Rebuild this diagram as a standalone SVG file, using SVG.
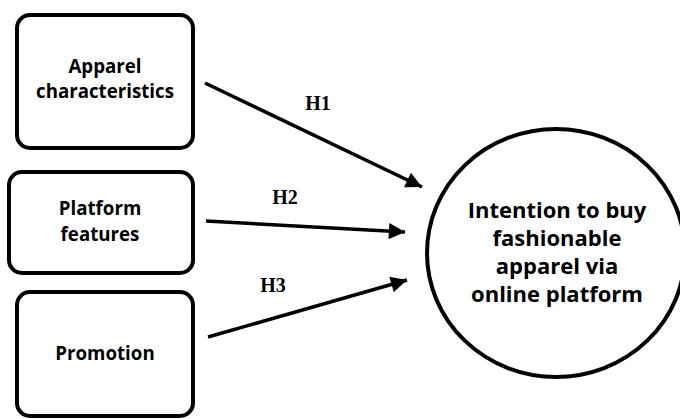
<svg xmlns="http://www.w3.org/2000/svg" width="680" height="419" viewBox="0 0 680 419">
<style>
.box{fill:#fff;stroke:#000;stroke-width:4}
.lbl{font-family:"Open Sans","Liberation Sans",sans-serif;font-weight:bold;font-size:18.7px;fill:#000;text-anchor:middle}
.big{font-size:22px}
.h{font-family:"Liberation Serif",serif;font-weight:bold;font-size:20px;fill:#000;text-anchor:middle}
.conn{stroke:#000;stroke-width:3.5;fill:none;marker-end:url(#ah)}
</style>
<defs>
<marker id="ah" viewBox="0 0 10 10" refX="10" refY="5" markerWidth="5.2" markerHeight="4.6" orient="auto" markerUnits="strokeWidth">
<path d="M0,0 L10,5 L0,10 z" fill="#000"/>
</marker>
</defs>
<rect width="680" height="419" fill="#fff"/>
<g id="n1">
<rect class="box" x="17" y="15" width="176" height="133" rx="13"/>
<text class="lbl" x="105" y="73">Apparel</text>
<text class="lbl" x="105" y="98">characteristics</text>
</g>
<g id="n2">
<rect class="box" x="9" y="172" width="184" height="101" rx="13"/>
<text class="lbl" x="100" y="215">Platform</text>
<text class="lbl" x="100" y="241">features</text>
</g>
<g id="n3">
<rect class="box" x="17" y="292" width="176" height="124" rx="13"/>
<text class="lbl" x="105" y="360">Promotion</text>
</g>
<g id="n4">
<ellipse cx="556" cy="253" rx="129" ry="124" fill="#fff" stroke="#000" stroke-width="4"/>
<text class="lbl big" x="557" y="218">Intention to buy</text>
<text class="lbl big" x="557" y="246">fashionable</text>
<text class="lbl big" x="557" y="274">apparel via</text>
<text class="lbl big" x="557" y="302">online platform</text>
</g>
<g id="connectors">
<line class="conn" x1="205" y1="83" x2="422" y2="187"/>
<line class="conn" x1="206" y1="221" x2="405" y2="232"/>
<line class="conn" x1="208" y1="337" x2="407" y2="280"/>
<text class="h" x="318" y="110">H1</text>
<text class="h" x="285" y="204">H2</text>
<text class="h" x="273" y="292">H3</text>
</g>
</svg>
